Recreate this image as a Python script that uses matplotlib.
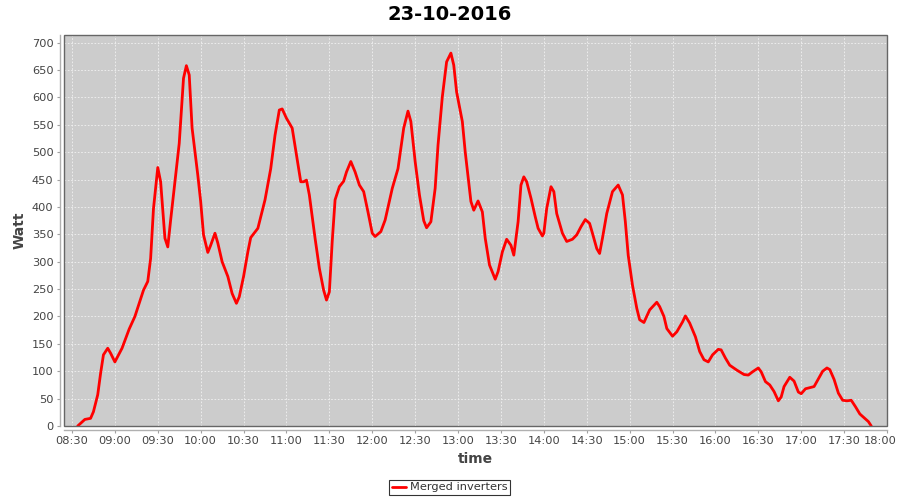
import matplotlib
matplotlib.use("Agg")
import matplotlib.pyplot as plt
import matplotlib.dates as mdates
import matplotlib.transforms as mtransforms
from matplotlib.patches import Rectangle
import pandas as pd

title = "23-10-2016"
series_name = "Merged inverters"
x_label = "time"
y_label = "Watt"

times = [
    "08:34", "08:39", "08:43", "08:45", "08:48", "08:50", "08:52", "08:55", "08:57", "09:00",
    "09:05", "09:10", "09:14", "09:20", "09:23", "09:25", "09:27", "09:30", "09:32", "09:35",
    "09:37", "09:39", "09:45", "09:48", "09:50", "09:52", "09:54", "09:58", "10:00", "10:02",
    "10:05", "10:07", "10:10", "10:12", "10:15", "10:19", "10:22", "10:25", "10:27", "10:30",
    "10:33", "10:35", "10:40", "10:45", "10:49", "10:52", "10:55", "10:57", "11:00", "11:04",
    "11:07", "11:10", "11:12", "11:14", "11:16", "11:20", "11:23", "11:26", "11:28", "11:30",
    "11:32", "11:34", "11:37", "11:40", "11:42", "11:45", "11:48", "11:51", "11:54", "11:57",
    "12:00", "12:02", "12:06", "12:09", "12:14", "12:18", "12:22", "12:25", "12:27", "12:30",
    "12:33", "12:36", "12:38", "12:41", "12:44", "12:46", "12:49", "12:52", "12:55", "12:57",
    "12:59", "13:03", "13:05", "13:09", "13:11", "13:14", "13:17", "13:19", "13:22", "13:26",
    "13:28", "13:31", "13:34", "13:37", "13:39", "13:42", "13:44", "13:46", "13:48", "13:51",
    "13:54", "13:56", "13:59", "14:00", "14:02", "14:05", "14:07", "14:09", "14:13", "14:16",
    "14:20", "14:23", "14:26", "14:29", "14:32", "14:34", "14:37", "14:39", "14:41", "14:44",
    "14:48", "14:52", "14:55", "14:57", "14:59", "15:02", "15:05", "15:07", "15:10", "15:14",
    "15:19", "15:21", "15:24", "15:26", "15:30", "15:33", "15:37", "15:39", "15:42", "15:46",
    "15:49", "15:52", "15:55", "15:58", "16:02", "16:04", "16:07", "16:10", "16:15", "16:20",
    "16:23", "16:26", "16:30", "16:32", "16:35", "16:38", "16:41", "16:44", "16:46", "16:48",
    "16:52", "16:55", "16:58", "17:00", "17:03", "17:06", "17:09", "17:12", "17:15", "17:18",
    "17:20", "17:23", "17:26", "17:29", "17:32", "17:35", "17:38", "17:41", "17:44", "17:47",
    "17:49",
]
watts = [
    0, 12, 14, 26, 57, 96, 130, 142, 133, 117,
    142, 177, 200, 248, 264, 306, 397, 472, 446, 343,
    327, 376, 516, 635, 658, 641, 544, 458, 410, 349,
    317, 330, 352, 334, 300, 273, 242, 224, 236, 273,
    318, 344, 361, 413, 470, 531, 577, 579, 562, 544,
    495, 446, 446, 449, 422, 343, 288, 248, 230, 245,
    337, 413, 437, 447, 464, 483, 464, 440, 428, 391,
    352, 346, 355, 376, 434, 470, 544, 575, 556, 483,
    422, 375, 362, 373, 434, 513, 601, 665, 681, 659,
    610, 556, 501, 410, 394, 411, 391, 343, 294, 268,
    282, 318, 341, 330, 312, 373, 440, 455, 446, 416,
    382, 361, 347, 352, 397, 437, 428, 388, 352, 337,
    341, 349, 364, 377, 370, 352, 324, 315, 343, 388,
    428, 440, 422, 373, 312, 257, 215, 194, 189, 212,
    226, 218, 200, 178, 164, 172, 190, 201, 188, 163,
    136, 121, 117, 130, 140, 139, 124, 111, 102, 94,
    93, 99, 106, 99, 81, 75, 63, 46, 53, 72,
    89, 82, 62, 59, 68, 70, 72, 86, 100, 106,
    103, 85, 60, 47, 46, 47, 35, 22, 15, 8,
    0,
]
y_ticks = list(range(0, 701, 50))

day = "2016-10-23 "
x = pd.to_datetime([day + t for t in times])

fig = plt.figure(figsize=(9, 5), dpi=100)
fig.patch.set_facecolor("white")
ax = fig.add_axes([64 / 900, 1 - 426 / 500, (887 - 64) / 900, (426 - 35) / 500])
ax.set_facecolor("#CCCCCC")

line, = ax.plot(x, watts, color="#FF0000", linewidth=2.0, solid_joinstyle="round",
                solid_capstyle="round", label=series_name, zorder=3)

ax.set_xlim(pd.Timestamp(day + "08:24:25"), pd.Timestamp(day + "18:00:00"))
ax.set_ylim(0, 714)
ax.set_yticks(y_ticks)
ax.xaxis.set_major_locator(mdates.MinuteLocator(byminute=[0, 30]))
ax.xaxis.set_major_formatter(mdates.DateFormatter("%H:%M"))

ax.grid(True, color="#F2F2F2", linestyle=(0, (2, 2)), linewidth=0.6, zorder=1)
ax.set_axisbelow(True)

for s in ["top", "right"]:
    ax.spines[s].set_visible(False)
for s in ["left", "bottom"]:
    ax.spines[s].set_position(("outward", 3))
    ax.spines[s].set_color("#B0B0B0")
    ax.spines[s].set_linewidth(1.0)
ax.add_patch(Rectangle((0, 0), 1, 1, transform=ax.transAxes, fill=False,
                       edgecolor="#666666", linewidth=1.0, clip_on=False, zorder=5))

ax.tick_params(axis="both", direction="out", length=2, width=0.8, color="#A0A0A0",
               labelcolor="#444444", labelsize=8.2, pad=2.5)

ax.set_xlabel(x_label, fontsize=10, fontweight="bold", color="#444444", labelpad=4)
ax.set_ylabel(y_label, fontsize=10, fontweight="bold", color="#444444", labelpad=4)
fig.suptitle(title, fontsize=14, fontweight="bold", x=450 / 900, y=1 - 14 / 500, va="center")

leg = fig.legend(handles=[line], loc="center", bbox_to_anchor=(449.5 / 900, 1 - 487.5 / 500),
                 frameon=True, fancybox=False, fontsize=8.2, handlelength=1.3,
                 handletextpad=0.3, borderpad=0.25, borderaxespad=0)
leg.get_frame().set_edgecolor("black")
leg.get_frame().set_linewidth(0.8)
for t in leg.get_texts():
    t.set_color("#333333")

# keep the last tick label ("18:00") inside the canvas
fig.canvas.draw()
shift = mtransforms.ScaledTranslation(-5 / 72, 0, fig.dpi_scale_trans)
for tk in ax.xaxis.get_major_ticks():
    if tk.label1.get_text() == "18:00":
        tk.label1.set_transform(tk.label1.get_transform() + shift)

fig.savefig("out.png", dpi=100)
